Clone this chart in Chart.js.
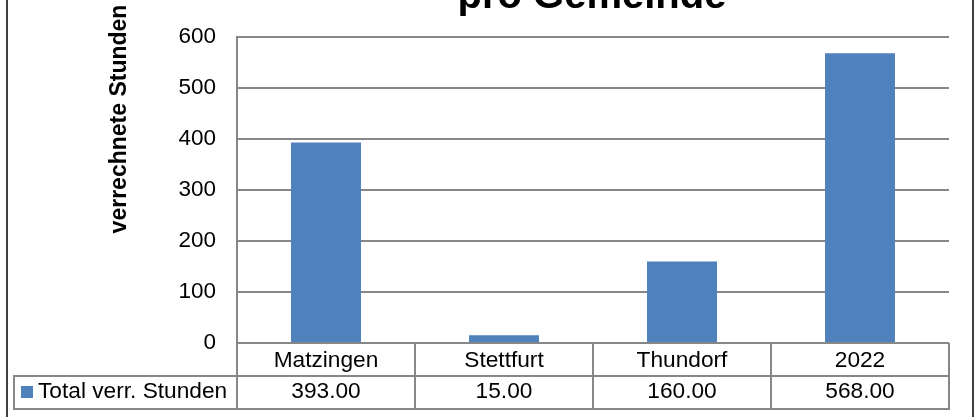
<!DOCTYPE html>
<html><head><meta charset="utf-8">
<script src="https://cdn.jsdelivr.net/npm/chart.js@4"></script>
<style>html,body{margin:0;padding:0;background:#fff;overflow:hidden}#wrap{width:980px;height:417px;position:relative}</style>
</head><body><div id="wrap"><canvas id="c" width="980" height="417"></canvas></div>
<script>
const categories = ['Matzingen', 'Stettfurt', 'Thundorf', '2022'];
const seriesName = 'Total verr. Stunden';
const values = [393, 15, 160, 568];
const yTicks = [0, 100, 200, 300, 400, 500, 600];
const chartTitle = 'pro Gemeinde';
const yAxisTitle = 'verrechnete Stunden';

const FONT = '"Liberation Sans", Arial, sans-serif';
const BAR = '#4F81BD';
const GRID = '#878787';

const decorPlugin = {
  id: 'decor',
  afterDraw(chart) {
    const ctx = chart.ctx, xs = chart.scales.x, a = chart.chartArea;
    const n = categories.length;
    const bounds = [];
    for (let i = 0; i <= n; i++) {
      if (i === 0) bounds.push(a.left);
      else if (i === n) bounds.push(a.right);
      else bounds.push((xs.getPixelForValue(i - 1) + xs.getPixelForValue(i)) / 2);
    }
    const top = a.bottom, mid = top + 33, bot = mid + 33;
    const legLeft = 14;
    ctx.save();
    ctx.strokeStyle = GRID; ctx.lineWidth = 2;
    ctx.beginPath();
    ctx.moveTo(legLeft - 1, mid); ctx.lineTo(a.right + 1, mid);
    ctx.moveTo(legLeft - 1, bot); ctx.lineTo(a.right + 1, bot);
    bounds.forEach(b => { ctx.moveTo(b, top); ctx.lineTo(b, bot); });
    ctx.moveTo(legLeft, mid); ctx.lineTo(legLeft, bot);
    ctx.stroke();

    ctx.fillStyle = '#000';
    ctx.font = '22.7px ' + FONT;
    ctx.textAlign = 'center';
    ctx.textBaseline = 'alphabetic';
    categories.forEach((c, i) => {
      const cx = xs.getPixelForValue(i);
      ctx.fillText(c, cx, top + 24);
      ctx.fillText(values[i].toFixed(2), cx, mid + 21.5);
    });
    ctx.fillStyle = BAR;
    ctx.fillRect(21, mid + 10, 12, 12);
    ctx.fillStyle = '#000';
    ctx.textAlign = 'left';
    ctx.fillText(seriesName, 38, mid + 21.5);

    // y axis title
    ctx.save();
    ctx.translate(120, 119);
    ctx.rotate(-Math.PI / 2);
    ctx.font = 'bold 23px ' + FONT;
    ctx.textAlign = 'center';
    ctx.textBaseline = 'middle';
    ctx.fillText(yAxisTitle, 0, 0);
    ctx.restore();

    // chart title (cut off at top)
    ctx.font = 'bold 40px ' + FONT;
    ctx.textAlign = 'center';
    ctx.textBaseline = 'alphabetic';
    ctx.fillText(chartTitle, 592, 7.5);

    // outer border
    ctx.strokeStyle = '#000'; ctx.lineWidth = 1.5;
    ctx.beginPath();
    ctx.moveTo(7, 0); ctx.lineTo(7, 417);
    ctx.moveTo(973, 0); ctx.lineTo(973, 417);
    ctx.stroke();
    ctx.restore();
  }
};

new Chart(document.getElementById('c'), {
  type: 'bar',
  data: {
    labels: categories,
    datasets: [{
      label: seriesName,
      data: values,
      backgroundColor: BAR,
      borderWidth: 0,
      categoryPercentage: 1,
      barPercentage: 0.393
    }]
  },
  options: {
    responsive: false,
    animation: false,
    devicePixelRatio: 1,
    layout: { padding: { top: 37, right: 31, bottom: 74, left: 0 } },
    plugins: { legend: { display: false }, title: { display: false }, tooltip: { enabled: false } },
    scales: {
      x: { display: false, offset: true },
      y: {
        min: yTicks[0], max: yTicks[yTicks.length - 1],
        afterFit(s) { s.width = 237; },
        afterBuildTicks(s) { s.ticks = yTicks.map(v => ({ value: v })); },
        ticks: { padding: 21, color: '#000', font: { family: FONT, size: 22.5 } },
        grid: { color: GRID, lineWidth: 2, drawTicks: false },
        border: { display: true, color: GRID, width: 2 }
      }
    }
  },
  plugins: [decorPlugin]
});
</script>
</body></html>
